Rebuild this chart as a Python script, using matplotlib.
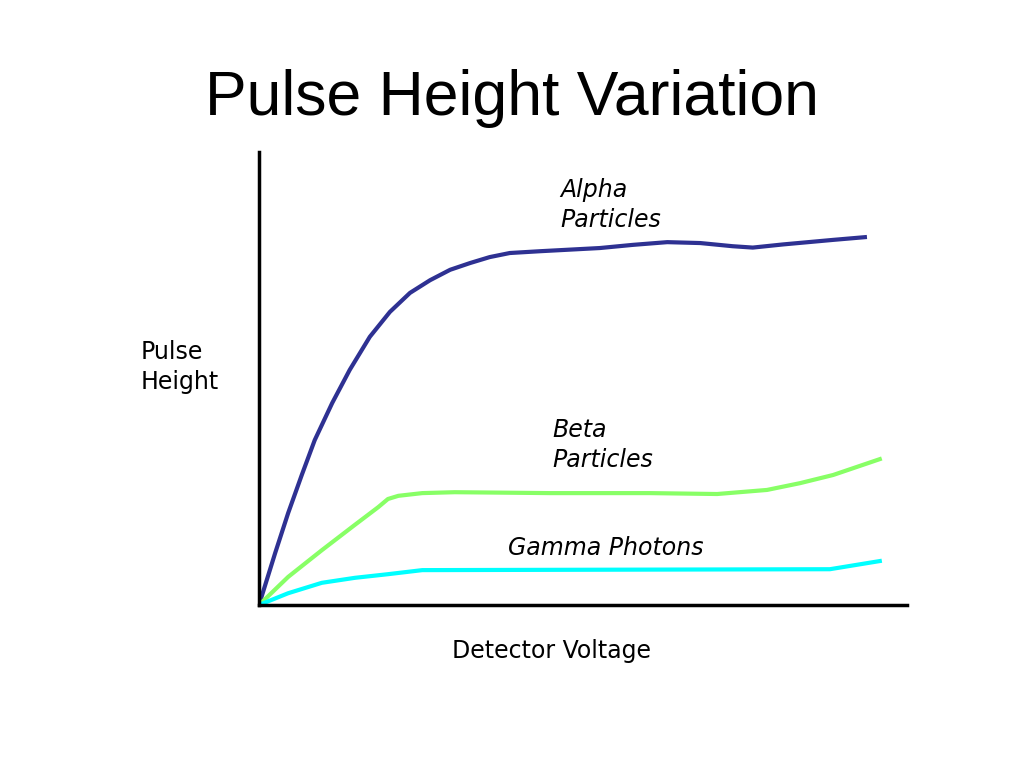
import matplotlib.pyplot as plt

# values (voltage 0-100, pulse height 0-100)
alpha_v = [0, 2.5, 4.5, 6.6, 8.6, 11.3, 14.0, 17.1, 20.2, 23.3, 26.4, 29.5, 32.6, 35.6,
           38.7, 43.4, 52.6, 57.7, 63.0, 68.1, 73.1, 76.2, 80.9, 88.6, 93.5]
alpha_h = [0, 11.5, 20.3, 28.7, 36.4, 44.6, 51.9, 59.2, 64.7, 68.9, 71.7, 74.0, 75.5, 76.8,
           77.7, 78.1, 78.8, 79.5, 80.1, 79.9, 79.2, 78.9, 79.6, 80.6, 81.2]

beta_v = [0, 4.5, 9.7, 14.8, 18.4, 19.9, 21.5, 25.2, 30.2, 44.9, 60.3, 70.7, 78.4, 83.5, 88.6, 95.8]
beta_h = [0, 6.2, 12.1, 17.7, 21.6, 23.4, 24.1, 24.7, 24.9, 24.7, 24.7, 24.5, 25.4, 26.9, 28.7, 32.2]

gamma_v = [0, 4.5, 9.7, 14.8, 19.9, 25.2, 88.1, 95.8]
gamma_h = [0, 2.6, 4.9, 6.0, 6.8, 7.7, 7.9, 9.7]

fig = plt.figure(figsize=(10.24, 7.68), dpi=100)
ax = fig.add_axes([259/1024, 163/768, 648/1024, 453/768])

ax.plot(alpha_v, alpha_h, color='#2e3192', lw=3, solid_joinstyle='round')
ax.plot(beta_v, beta_h, color='#88ff66', lw=3, solid_joinstyle='round')
ax.plot(gamma_v, gamma_h, color='#00ffff', lw=3, solid_joinstyle='round')

ax.set_xlim(0, 100)
ax.set_ylim(0, 100)
ax.spines['top'].set_visible(False)
ax.spines['right'].set_visible(False)
ax.spines['left'].set_linewidth(2.5)
ax.spines['bottom'].set_linewidth(2.5)
ax.set_xticks([])
ax.set_yticks([])

fig.text(512/1024, 1 - 99/768, 'Pulse Height Variation', ha='center', va='center',
         fontsize=45, family='Liberation Sans')

lab = dict(fontsize=17, family='DejaVu Sans', ha='left', va='center', linespacing=1.35)
fig.text(560/1024, 1 - 205/768, 'Alpha\nParticles', style='italic', **lab)
fig.text(552/1024, 1 - 445/768, 'Beta\nParticles', style='italic', **lab)
fig.text(508/1024, 1 - 548/768, 'Gamma Photons', style='italic', **lab)
fig.text(141/1024, 1 - 367/768, 'Pulse\nHeight', **lab)
fig.text(552/1024, 1 - 651/768, 'Detector Voltage', fontsize=17, family='DejaVu Sans',
         ha='center', va='center')

fig.savefig('out.png', dpi=100)
